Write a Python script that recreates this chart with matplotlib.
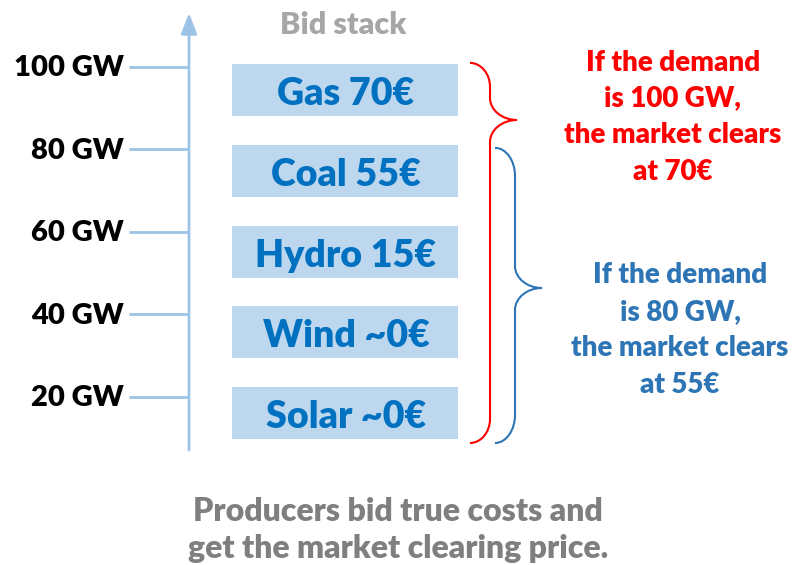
import matplotlib
matplotlib.use("Agg")
import matplotlib.pyplot as plt
from matplotlib.path import Path
from matplotlib.patches import PathPatch, Rectangle

# ---------------- data ----------------
sources = ["Solar", "Wind", "Hydro", "Coal", "Gas"]
bid_prices = ["~0€", "~0€", "15€", "55€", "70€"]
capacity_gw = [20, 20, 20, 20, 20]
tick_gw = [20, 40, 60, 80, 100]
tick_labels = ["20 GW", "40 GW", "60 GW", "80 GW", "100 GW"]
demand_gw = [100, 80]
clearing_price = ["70€", "55€"]
title = "Bid stack"
footer = ["Producers bid true costs and", "get the market clearing price."]

# ---------------- layout ----------------
W, H = 792, 565
PX_PER_GW = 4.125
Y60 = 231.6


def gw(ypx):
    return 60 - (ypx - Y60) / PX_PER_GW


def px(g):
    return Y60 + (60 - g) * PX_PER_GW


FONT = ["Lato", "DejaVu Sans"]
WEIGHT = "heavy"
CAP = 0.7165
AXIS_C = "#9DC3E6"
BOX_C = "#BDD7EE"
BOX_TXT = "#0070C0"
RED = "#FF0000"
BLUE = "#2E75B6"
GRAY_T = "#A6A6A6"
GRAY_F = "#7F7F7F"

fig = plt.figure(figsize=(W / 100, H / 100), dpi=100)
ax = fig.add_axes([0, 0, 1, 1])
ax.axis("off")
ax.set_xlim(0, W)
ax.set_ylim(gw(H), gw(0))


def ctext(x, ycap_px, s, size, color, ha="center"):
    """Place text so that its cap-height centre sits at ycap_px."""
    base = ycap_px + 0.5 * CAP * size * 100 / 72
    ax.text(x, gw(base), s, ha=ha, va="baseline", fontsize=size,
            fontweight=WEIGHT, color=color, family=FONT)


# vertical axis with arrow
ax.annotate("", xy=(189, gw(13)), xytext=(189, gw(450)),
            arrowprops=dict(arrowstyle="-|>,head_length=0.9,head_width=0.35",
                            color=AXIS_C, lw=2, mutation_scale=14,
                            shrinkA=0, shrinkB=0))

# ticks and labels
for t, lab in zip(tick_gw, tick_labels):
    ax.plot([129, 189], [t, t], color=AXIS_C, lw=2, solid_capstyle="butt")
    ctext(124, px(t) - 1, lab, 21, "black", ha="right")

# bid stack boxes (drawn between tick levels with small gaps)
cum = 0
for i, (s, p, c) in enumerate(zip(sources, bid_prices, capacity_gw)):
    cum += c
    centre = cum - 3.5 - 0.45 * (i + 1)
    lo, hi = centre - 6.3, centre + 6.3
    ax.add_patch(Rectangle((232, lo), 226, hi - lo, facecolor=BOX_C,
                           edgecolor="none"))
    ctext(346, px(centre) + 1.5, f"{s} {p}", 27, BOX_TXT)

ctext(343, 23, title, 22, GRAY_T)


# braces
def brace(x_end, x_line, x_tip, y_top, y_tip, y_bot, color, ry=24, rt=20):
    k = 0.55
    re = x_line - x_end
    rtp = x_tip - x_line
    pts = [
        (x_end, y_top),
        (x_end + k * re, y_top), (x_line, y_top + ry - k * ry), (x_line, y_top + ry),
        (x_line, y_tip - rt),
        (x_line, y_tip - rt + k * rt), (x_tip - k * rtp, y_tip), (x_tip, y_tip),
        (x_tip - k * rtp, y_tip), (x_line, y_tip + rt - k * rt), (x_line, y_tip + rt),
        (x_line, y_bot - ry),
        (x_line, y_bot - ry + k * ry), (x_end + k * re, y_bot), (x_end, y_bot),
    ]
    codes = [Path.MOVETO] + [Path.CURVE4] * 3 + [Path.LINETO] + [Path.CURVE4] * 6 \
        + [Path.LINETO] + [Path.CURVE4] * 3
    verts = [(x, gw(y)) for x, y in pts]
    ax.add_patch(PathPatch(Path(verts, codes), facecolor="none",
                           edgecolor=color, lw=1.5))


brace(470, 490, 517, px(demand_gw[0] + 0.9), 120, 443, RED, ry=24, rt=22)
brace(495, 515, 542, px(demand_gw[1] + 0.3), 288, 443, BLUE, ry=28, rt=22)

# annotations
for d, cp, col, xc, ys in [
    (demand_gw[0], clearing_price[0], RED, 673, [61, 96, 133.5, 170]),
    (demand_gw[1], clearing_price[1], BLUE, 680, [273.5, 310, 346.5, 383.5]),
]:
    lines = ["If the demand", f"is {d} GW,", "the market clears", f"at {cp}"]
    for ln, y in zip(lines, ys):
        ctext(xc, y, ln, 20, col)

for ln, y in zip(footer, [510, 547]):
    ctext(398, y, ln, 23, GRAY_F)

fig.savefig("out.png", dpi=100)
